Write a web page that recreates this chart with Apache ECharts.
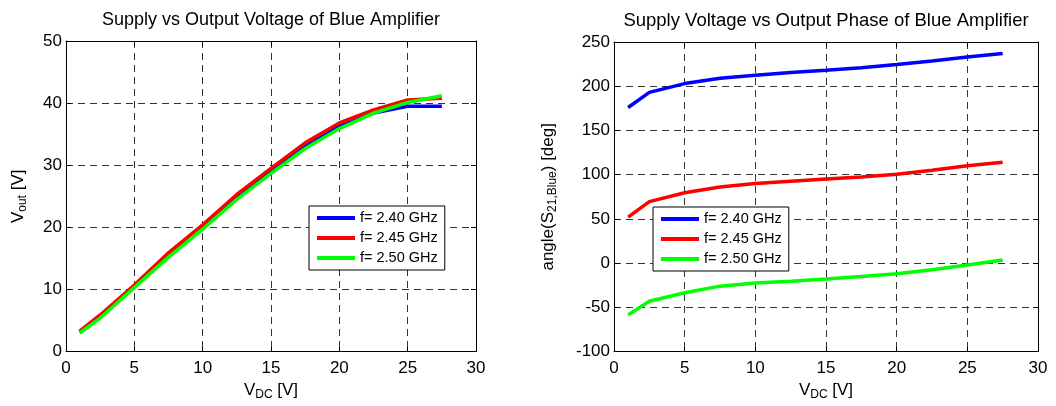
<!DOCTYPE html>
<html><head><meta charset="utf-8">
<script src="https://cdn.jsdelivr.net/npm/echarts@6/dist/echarts.min.js"></script>
<style>html,body{margin:0;padding:0;background:#fff}#c{width:1056px;height:406px}</style>
</head><body><div id="c"></div>
<script>
// ---- data ----
const vdc = [1, 2.5, 5, 7.5, 10, 12.5, 15, 17.5, 20, 22.5, 25, 27.5];
const seriesNames = ['f= 2.40 GHz', 'f= 2.45 GHz', 'f= 2.50 GHz'];
const seriesColors = ['#0000ff', '#ff0000', '#00ff00'];
// left: output voltage [V]
const vout240 = [3.1, 5.6, 10.5, 15.5, 20.0, 24.9, 29.0, 33.1, 36.3, 38.4, 39.5, 39.5];
const vout245 = [3.3, 5.9, 10.7, 15.9, 20.4, 25.3, 29.5, 33.6, 36.8, 38.9, 40.5, 40.8];
const vout250 = [3.0, 5.4, 10.3, 15.2, 19.7, 24.5, 28.7, 32.7, 35.9, 38.4, 40.1, 41.2];
// right: output phase [deg]
const phase240 = [176, 193, 203, 209, 212.5, 215.5, 218, 221, 224.5, 228.5, 233, 237];
const phase245 = [52, 69.5, 79.5, 86, 90, 92.5, 95, 97.5, 100.5, 105, 110, 114];
const phase250 = [-58.5, -43, -33.5, -26, -22.5, -20.5, -18, -15, -12, -7.5, -2, 3.5];
// axes
const xTicks = [0, 5, 10, 15, 20, 25, 30];
const yTicksLeft = [0, 10, 20, 30, 40, 50];
const yTicksRight = [-100, -50, 0, 50, 100, 150, 200, 250];

const FONT = 'Liberation Sans, Arial, Helvetica, sans-serif';
const chart = echarts.init(document.getElementById('c'), null, {renderer: 'canvas'});

function pairs(xs, ys) { return xs.map((x, i) => [x, ys[i]]); }

const gridLine = {show: true, lineStyle: {color: '#333', type: [7, 5], width: 1}};
const axisLineStyle = {show: true, onZero: false, lineStyle: {color: '#000', width: 1}};
const tickIn = {show: true, inside: true, length: 5, lineStyle: {color: '#000'}};
const label = {color: '#000', fontSize: 17, fontFamily: FONT};
const subRich = {
  n: {fontSize: 17, fontFamily: FONT, color: '#000'},
  s: {fontSize: 12, fontFamily: FONT, color: '#000', padding: [10, 0, 0, 0]}
};

function axesFor(g, ticksX, ticksY, xName, yName, yGap) {
  const xmin = ticksX[0], xmax = ticksX[ticksX.length - 1], xint = ticksX[1] - ticksX[0];
  const ymin = ticksY[0], ymax = ticksY[ticksY.length - 1], yint = ticksY[1] - ticksY[0];
  const xs = [
    {type: 'value', gridIndex: g, position: 'bottom', min: xmin, max: xmax, interval: xint,
     axisLine: axisLineStyle, axisTick: tickIn, splitLine: gridLine,
     axisLabel: Object.assign({margin: 8}, label),
     name: xName, nameLocation: 'middle', nameGap: 27,
     nameTextStyle: {rich: subRich, fontSize: 17, fontFamily: FONT, color: '#000'}},
    {type: 'value', gridIndex: g, position: 'top', min: xmin, max: xmax, interval: xint,
     axisLine: axisLineStyle, axisTick: tickIn, splitLine: {show: false}, axisLabel: {show: false}}
  ];
  const ys = [
    {type: 'value', gridIndex: g, position: 'left', min: ymin, max: ymax, interval: yint,
     axisLine: axisLineStyle, axisTick: tickIn, splitLine: gridLine,
     axisLabel: Object.assign({margin: 4}, label),
     name: yName, nameLocation: 'middle', nameGap: yGap, nameRotate: 90,
     nameTextStyle: {rich: subRich, fontSize: 17, fontFamily: FONT, color: '#000'}},
    {type: 'value', gridIndex: g, position: 'right', min: ymin, max: ymax, interval: yint,
     axisLine: axisLineStyle, axisTick: tickIn, splitLine: {show: false}, axisLabel: {show: false}}
  ];
  return {xs, ys};
}

const A = axesFor(0, xTicks, yTicksLeft, '{n|V}{s|DC}{n| [V]}', '{n|V}{s|out}{n| [V]}', 37);
const B = axesFor(1, xTicks, yTicksRight, '{n|V}{s|DC}{n| [V]}', '{n|angle(S}{s|21,Blue}{n|) [deg]}', 55);

const leftData = [vout240, vout245, vout250];
const rightData = [phase240, phase245, phase250];
const series = [];
leftData.forEach((d, i) => series.push({
  type: 'line', name: seriesNames[i], xAxisIndex: 0, yAxisIndex: 0, data: pairs(vdc, d),
  showSymbol: false, lineStyle: {color: seriesColors[i], width: 3.5}, itemStyle: {color: seriesColors[i]},
  z: 3 + i, silent: true
}));
rightData.forEach((d, i) => series.push({
  type: 'line', name: seriesNames[i], xAxisIndex: 2, yAxisIndex: 2, data: pairs(vdc, d),
  showSymbol: false, lineStyle: {color: seriesColors[i], width: 3.5}, itemStyle: {color: seriesColors[i]},
  z: 3 + i, silent: true
}));

function legendAt(left, top) {
  return {
    data: seriesNames, orient: 'vertical', left: left, top: top,
    icon: 'rect', itemWidth: 38, itemHeight: 4, itemGap: 0,
    padding: [2, 7, 2, 8], borderColor: '#000', borderWidth: 1, backgroundColor: '#fff',
    textStyle: {fontSize: 14.5, fontFamily: FONT, color: '#000', lineHeight: 20},
    selectedMode: false, z: 10
  };
}

chart.setOption({
  animation: false,
  backgroundColor: '#fff',
  title: [
    {text: 'Supply vs Output Voltage of Blue Amplifier', left: 271, top: 11, textAlign: 'center', padding: 0,
     textStyle: {fontSize: 18, fontWeight: 'normal', fontFamily: FONT, color: '#000'}},
    {text: 'Supply Voltage vs Output Phase of Blue Amplifier', left: 826, top: 11, textAlign: 'center', padding: 0,
     textStyle: {fontSize: 18.5, fontWeight: 'normal', fontFamily: FONT, color: '#000'}}
  ],
  grid: [
    {left: 66, top: 41, width: 410, height: 315, containLabel: false},
    {left: 614, top: 42, width: 424, height: 314, containLabel: false}
  ],
  xAxis: A.xs.concat(B.xs),
  yAxis: A.ys.concat(B.ys),
  legend: [legendAt(309, 206), legendAt(653, 207)],
  series: series
});
</script></body></html>
